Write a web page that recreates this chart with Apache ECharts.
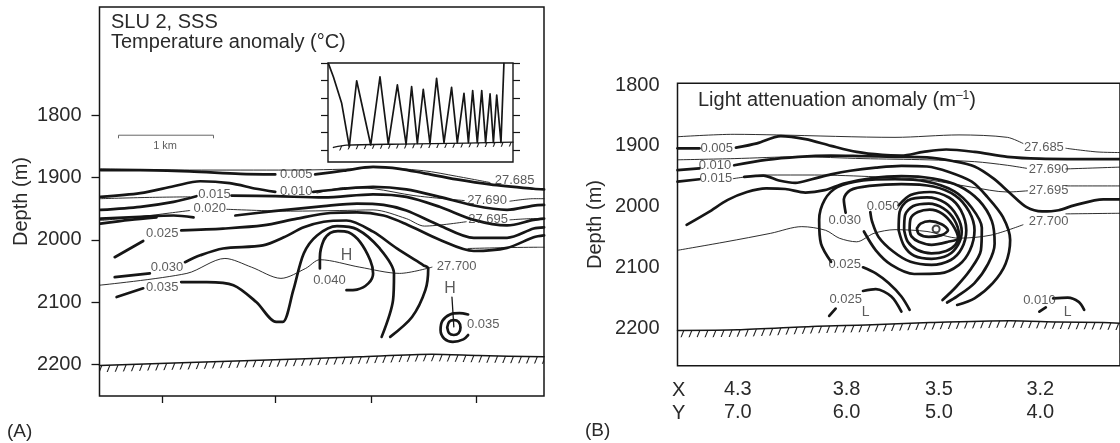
<!DOCTYPE html>
<html><head><meta charset="utf-8">
<script src="https://cdn.jsdelivr.net/npm/echarts@6/dist/echarts.min.js"></script>
<style>html,body{margin:0;padding:0;background:#fff}#c{width:1120px;height:443px}</style>
</head><body><div id="c"></div>
<script>
// ===== shared axis values =====
const stationKm = [0.66, 1.85, 2.86, 3.97];
const stationX = ['4.3', '3.8', '3.5', '3.2'];
const stationY = ['7.0', '6.0', '5.0', '4.0'];
const depthTicks = [1800, 1900, 2000, 2100, 2200];
const insetTicks = [0, 1, 2, 3, 4, 5];

// ===== Panel A: temperature anomaly contours [distance km, depth m] =====
const aT005a = [[0.01,1888],[0.43,1888],[0.95,1890],[1.48,1894],[1.85,1895]];
const aT005b = [[2.27,1895],[2.57,1889],[2.88,1883],[3.16,1886],[3.41,1893],[3.76,1903],[4.11,1911],[4.57,1918],[4.68,1919]];
const aT010a = [[0.01,1931],[0.43,1925],[0.78,1914],[1.06,1906],[1.37,1909],[1.65,1918],[1.85,1923]];
const aT010b = [[2.25,1923],[2.57,1918],[2.88,1915],[3.23,1919],[3.58,1931],[3.94,1945],[4.29,1952],[4.57,1945],[4.68,1944]];
const aT015a = [[0.01,1952],[0.43,1947],[0.78,1939],[1.02,1930]];
const aT015b = [[1.39,1929],[1.85,1930],[2.36,1932],[2.88,1927],[3.23,1931],[3.58,1947],[3.94,1968],[4.29,1977],[4.57,1968],[4.68,1966]];
const aT020a = [[0.01,1966],[0.43,1963],[0.78,1961],[0.99,1964]];
const aT020b = [[0.01,1974],[0.32,1968],[0.60,1964]];
const aT020c = [[1.43,1961],[1.83,1954],[2.36,1946],[2.71,1942],[2.99,1944],[3.23,1953],[3.58,1977],[3.94,1997],[4.29,1997],[4.57,1982],[4.68,1980]];
const aT025a = [[0.16,2028],[0.46,2002]];
const aT025b = [[0.86,1985],[1.30,1982],[1.72,1977],[2.08,1966],[2.43,1957],[2.71,1956],[2.99,1961],[3.23,1975],[3.58,2000],[3.94,2018],[4.29,2013],[4.57,1996],[4.68,1993]];
const aT030a = [[0.16,2060],[0.53,2054]];
const aT030b = [[0.90,2036],[1.06,2025],[1.30,2014],[1.72,2009],[1.94,1996],[2.15,1980],[2.36,1971],[2.60,1969],[2.88,1987],[3.13,2014],[3.41,2041],[3.46,2046],[3.43,2081],[3.29,2124],[3.06,2156]];
const aT035a = [[0.18,2092],[0.46,2078]];
const aT035b = [[0.86,2068],[1.13,2068],[1.41,2073],[1.65,2100],[1.86,2132],[1.93,2132],[2.04,2081],[2.15,2022],[2.29,1993],[2.50,1978],[2.71,1983],[2.95,2014],[3.10,2054],[3.09,2097],[2.97,2156]];
const aT040 = [[2.32,2046],[2.32,2028],[2.36,2001],[2.43,1989],[2.51,1986],[2.62,1988],[2.74,2003],[2.85,2033],[2.88,2054],[2.83,2070],[2.71,2080],[2.60,2081]];
const aHighIn = [[3.66,2141],[3.68,2132],[3.73,2129],[3.78,2132],[3.80,2141],[3.78,2150],[3.73,2153],[3.68,2150],[3.66,2141]];
const aHighOut = [[3.88,2120],[3.79,2118],[3.69,2120],[3.61,2130],[3.59,2145],[3.63,2159],[3.72,2164],[3.83,2160],[3.88,2153]];
const aHighStem = [[3.71,2092],[3.73,2140]];
// isopycnals (thin)
const aD685 = [[0.01,1886],[0.95,1888],[2.01,1888],[2.71,1886],[2.88,1884],[3.41,1889],[3.76,1898],[4.11,1908]];
const aD690a = [[0.01,1934],[0.50,1932],[0.95,1931]];
const aD690b = [[2.29,1925],[2.59,1916],[2.89,1918],[3.31,1929],[3.84,1937]];
const aD690c = [[4.32,1938],[4.57,1934],[4.68,1934]];
const aD695a = [[0.01,1969],[0.43,1963],[0.74,1957],[0.95,1953]];
const aD695b = [[1.34,1951],[2.01,1954],[2.53,1953],[2.88,1952],[3.23,1966],[3.42,1978],[3.86,1971]];
const aD695c = [[4.32,1968],[4.57,1966],[4.68,1966]];
const aD700a = [[0.00,2073],[0.92,2054],[1.32,2030],[1.60,2044],[1.91,2062],[2.17,2046],[2.32,2032],[2.74,2044],[3.16,2054],[3.50,2044]];
const aD700b = [[3.88,2014],[4.61,2012],[4.68,2012]];
const aScaleBar = [[0.20,1837],[0.20,1832],[1.20,1832],[1.20,1837]];
const aFloor = [[0.00,2202],[1.60,2194],[2.74,2188],[3.50,2184],[3.99,2186],[4.68,2188]];
const aLabels = [[2.07,1895,'0.005'],[2.07,1923,'0.010'],[1.21,1927,'0.015'],[1.16,1950,'0.020'],[0.66,1990,'0.025'],[0.71,2044,'0.030'],[0.66,2076,'0.035'],[2.42,2065,'0.040'],[4.37,1904,'27.685'],[4.08,1937,'27.690'],[4.09,1968,'27.695'],[3.76,2043,'27.700'],[4.04,2136,'0.035']];
const aHighs = [[2.60,2025,'H'],[3.69,2078,'H']];
const aScaleText = [[0.69,1849,'1 km']];

// ===== Inset: tow-yo track [time %, depth units] =====
const insetPath = [[0.2,0.02],[2.9,0.79],[7.4,2.32],[11.5,4.81],[15.5,1.02],[23.1,4.71],[28.1,0.79],[32.6,4.66],[37.5,1.26],[42.2,4.66],[45.2,1.36],[48.3,4.62],[51.5,1.51],[55.1,4.62],[58.7,0.88],[62.7,4.58],[66.8,1.40],[69.9,4.58],[73.5,1.74],[75.9,4.58],[78.2,1.59],[80.7,4.58],[83.1,1.59],[85.2,4.58],[87.6,1.78],[89.4,4.58],[91.2,1.84],[93.5,4.58],[95.1,0.02]];
const insetFloor = [[2.9,4.85],[10,4.72],[39,4.66],[75,4.60],[100,4.55]];

// ===== Panel B: light attenuation anomaly contours =====
const bT005a = [[0.00,1904],[0.24,1904]];
const bT005b = [[0.64,1903],[0.87,1896],[1.13,1884],[1.40,1889],[1.68,1900],[1.96,1910],[2.24,1915],[2.45,1916],[2.69,1910],[2.94,1906],[3.25,1910],[3.61,1918],[3.96,1921],[4.66,1922],[4.84,1922]];
const bT010a = [[0.00,1940],[0.24,1937]];
const bT010b = [[0.62,1932],[0.97,1923],[1.32,1918],[1.68,1916],[2.03,1917],[2.38,1918],[2.73,1919],[3.01,1925],[3.25,1934],[3.46,1954],[3.64,1978],[3.82,2001],[3.99,2008],[4.17,2006],[4.34,1998],[4.66,1988],[4.84,1988]];
const bT015a = [[0.00,1959],[0.24,1955]];
const bT015b = [[0.73,1951],[0.94,1949],[1.11,1957],[1.29,1961],[1.47,1955],[1.68,1947],[1.89,1941],[2.17,1936],[2.45,1933],[2.73,1934],[2.97,1943],[3.22,1959],[3.39,1984],[3.56,2017],[3.64,2055],[3.59,2094],[3.45,2126],[3.25,2151],[3.06,2162]];
const bT020 = [[0.10,2030],[0.34,2009],[0.55,1989],[0.76,1976],[0.97,1970],[1.18,1971],[1.40,1977],[1.61,1973],[1.82,1962],[2.10,1954],[2.45,1950],[2.80,1954],[3.08,1966],[3.30,1990],[3.44,2024],[3.47,2061],[3.40,2094],[3.25,2126],[3.06,2148],[2.95,2158]];
const bT025a = [[2.54,2170],[2.45,2148],[2.31,2126],[2.17,2110],[2.03,2100]];
const bT025b = [[1.68,2091],[1.57,2061],[1.55,2022],[1.61,1989],[1.75,1968],[2.03,1957],[2.38,1955],[2.73,1959],[3.03,1975],[3.22,2002],[3.33,2035],[3.32,2072],[3.20,2105],[3.05,2132],[2.90,2154]];
const bT025c = [[2.03,2139],[2.17,2136],[2.34,2148],[2.45,2173]];
const bT030 = [[1.84,2010],[1.82,1988],[1.89,1973],[2.10,1966],[2.45,1963],[2.80,1967],[3.04,1982],[3.19,2008],[3.25,2039],[3.20,2072],[3.08,2096],[2.87,2110],[2.59,2111],[2.34,2096],[2.17,2072],[2.04,2041]];
const bT050 = [[2.42,1998],[2.55,1981],[2.76,1976],[2.97,1985],[3.10,2006],[3.16,2039],[3.11,2069],[2.99,2088],[2.78,2096],[2.55,2091],[2.36,2074],[2.20,2050],[2.13,2025],[2.11,2009]];
const bR4 = [[2.42,2039],[2.43,2009],[2.52,1990],[2.73,1985],[2.93,1994],[3.06,2016],[3.11,2041],[3.07,2063],[2.96,2080],[2.78,2086],[2.59,2081],[2.48,2065],[2.42,2039]];
const bR3 = [[2.48,2039],[2.49,2014],[2.58,1999],[2.75,1995],[2.91,2003],[3.03,2022],[3.08,2047],[3.04,2063],[2.94,2073],[2.78,2077],[2.62,2071],[2.52,2058],[2.48,2039]];
const bR2 = [[2.54,2039],[2.55,2020],[2.63,2009],[2.76,2005],[2.90,2012],[3.01,2030],[3.07,2052],[2.96,2058],[2.78,2063],[2.64,2058],[2.56,2049],[2.54,2039]];
const bR1 = [[2.62,2036],[2.66,2028],[2.76,2024],[2.89,2029],[2.96,2039],[2.89,2047],[2.75,2050],[2.64,2045],[2.62,2036]];
const bCore = [[2.83,2037]];
const bLowTick1 = [[1.66,2180],[1.73,2168]];
const bT010c = [[4.11,2151],[4.27,2150],[4.39,2157],[4.45,2170]];
const bLowTick2 = [[3.96,2173],[4.03,2166]];
// isopycnals (thin)
const bD685a = [[0.00,1885],[0.62,1881],[1.08,1882],[2.38,1886],[3.08,1882],[3.61,1886],[3.78,1896]];
const bD685b = [[4.25,1904],[4.59,1910],[4.84,1911]];
const bD690a = [[0.00,1923],[0.62,1921],[1.32,1918],[2.03,1921],[2.73,1923],[3.25,1926],[3.61,1932],[3.82,1937]];
const bD690b = [[4.25,1938],[4.84,1935]];
const bD695a = [[0.61,1954],[0.97,1948],[1.50,1948],[2.17,1951],[2.73,1956],[3.22,1968],[3.61,1976],[3.83,1974]];
const bD695b = [[4.25,1966],[4.84,1966]];
const bD700a = [[0.00,2072],[0.53,2058],[1.02,2044],[1.36,2033],[1.62,2039],[1.77,2052],[1.96,2058],[2.15,2044],[2.38,2038],[2.73,2041],[3.08,2052],[3.43,2047],[3.78,2030]];
const bD700b = [[4.25,2012],[4.84,2011]];
const bFloor = [[0.00,2204],[0.66,2203],[1.53,2197],[2.06,2195],[2.76,2191],[3.64,2188],[4.16,2190],[4.66,2191],[4.84,2192]];
const bLabels = [[0.43,1904,'0.005'],[0.41,1933,'0.010'],[0.42,1954,'0.015'],[1.83,2022,'0.030'],[2.25,2000,'0.050'],[1.83,2096,'0.025'],[1.84,2153,'0.025'],[3.96,2154,'0.010'],[4.01,1902,'27.685'],[4.06,1939,'27.690'],[4.06,1973,'27.695'],[4.06,2025,'27.700']];
const bLows = [[2.06,2173,'L'],[4.27,2173,'L']];

// ===== build =====
const FONT = '"Liberation Sans", Arial, Helvetica, sans-serif';
const INK = '#161616';
const TXT = '#2a2a2a';
const THICK = 2.7, THIN = 0.9;

function hatchCanvas() {
  const c = document.createElement('canvas');
  c.width = 8; c.height = 20;
  const g = c.getContext('2d');
  g.strokeStyle = '#222'; g.lineWidth = 1.1;
  g.beginPath();
  [-8, 0, 8].forEach(o => { g.moveTo(o, 20); g.lineTo(o + 8, 0); });
  g.stroke();
  return c;
}
const hatch = hatchCanvas();

function ln(data, gi, w, extra) {
  return Object.assign({
    type: 'line', data: data, xAxisIndex: gi, yAxisIndex: gi,
    symbol: 'none', showSymbol: false, smooth: 0.3, silent: true,
    lineStyle: { color: INK, width: w, cap: 'round', join: 'round' }, z: 4
  }, extra || {});
}
// sea floor: line + hatched band (hatched area down to `bottom`, then white cover below floor+thick)
function floor(data, gi, yi, thick, w, bottom, coverBottom) {
  return [
    ln(data, gi, w, { yAxisIndex: yi, smooth: 0.25, z: 2,
      areaStyle: { color: { image: hatch, repeat: 'repeat' }, opacity: 1, origin: bottom } }),
    ln(data.map(p => [p[0], p[1] + thick]), gi, 0, { yAxisIndex: yi, smooth: 0.25, z: 3,
      lineStyle: { width: 0, opacity: 0 },
      areaStyle: { color: '#ffffff', opacity: 1, origin: coverBottom } })
  ];
}
function texts(data, gi, size, color) {
  return {
    type: 'scatter', xAxisIndex: gi, yAxisIndex: gi, data: data, silent: true,
    symbolSize: 1, itemStyle: { color: 'rgba(0,0,0,0)' }, z: 6,
    label: { show: true, position: 'inside', formatter: p => p.value[2],
      fontSize: size, fontFamily: FONT, color: color || '#333' }
  };
}

const series = [];
[aT005a, aT005b, aT010a, aT010b, aT015a, aT015b, aT020a, aT020b, aT020c, aT025a, aT025b,
 aT030a, aT030b, aT035a, aT035b, aT040, aHighIn, aHighOut].forEach(d => series.push(ln(d, 0, THICK)));
[aD685, aD690a, aD690b, aD690c, aD695a, aD695b, aD695c, aD700a, aD700b].forEach(d => series.push(ln(d, 0, THIN)));
series.push(ln(aHighStem, 0, 1.3, { smooth: false }));
series.push(ln(aScaleBar, 0, 1, { smooth: false, lineStyle: { color: '#666', width: 1 } }));
floor(aFloor, 0, 0, 11, 1.5, 2235, 2245).forEach(s => series.push(s));
series.push(texts(aLabels, 0, 13));
series.push(texts(aHighs, 0, 16));
series.push(texts(aScaleText, 0, 11));

// inset (grid 2; y axes 2 & 3)
series.push(ln(insetPath, 2, 1.7, { yAxisIndex: 2, smooth: false }));
floor(insetFloor, 2, 2, 0.25, 1.3, 5.45, 5.6).forEach(s => series.push(s));

[bT005a, bT005b, bT010a, bT010b, bT015a, bT015b, bT020, bT025a, bT025b, bT025c, bT030, bT050,
 bR4, bR3, bR2, bR1, bLowTick1, bT010c, bLowTick2].forEach(d => series.push(ln(d, 1, THICK)));
[bD685a, bD685b, bD690a, bD690b, bD695a, bD695b, bD700a, bD700b].forEach(d => series.push(ln(d, 1, THIN)));
series.push({ type: 'scatter', xAxisIndex: 1, yAxisIndex: 1, data: bCore, silent: true, symbol: 'circle',
  symbolSize: 7, itemStyle: { color: 'rgba(0,0,0,0)', borderColor: INK, borderWidth: 2 }, z: 5 });
floor(bFloor, 1, 1, 11.5, 1.5, 2245, 2255).forEach(s => series.push(s));
series.push(texts(bLabels, 1, 13));
series.push(texts(bLows, 1, 14));

const noLine = { show: false };
const plain = v => String(v);
const option = {
  animation: false,
  backgroundColor: '#fff',
  grid: [
    { z: 10, left: 99.5, top: 7, width: 444.5, height: 389, show: true, borderColor: INK, borderWidth: 1.5, backgroundColor: 'transparent' },
    { z: 10, left: 677.5, top: 83.3, width: 460, height: 282.4, show: true, borderColor: INK, borderWidth: 1.5, backgroundColor: 'transparent' },
    { z: 10, left: 328, top: 63, width: 185, height: 99, show: true, borderColor: INK, borderWidth: 1.4, backgroundColor: 'transparent' }
  ],
  xAxis: [
    { gridIndex: 0, type: 'value', min: 0, max: 4.679, axisLine: noLine, splitLine: noLine,
      axisTick: { show: true, customValues: stationKm, length: 7, lineStyle: { color: INK, width: 1.3 } },
      axisLabel: { show: false } },
    { gridIndex: 1, type: 'value', min: 0, max: 4.842, axisLine: noLine, splitLine: noLine, axisTick: { show: false },
      axisLabel: { show: true, customValues: stationKm, margin: 12, fontSize: 20, lineHeight: 23, fontFamily: FONT, color: TXT,
        formatter: v => { const i = stationKm.indexOf(v); return i < 0 ? '' : stationX[i] + '\n' + stationY[i]; } } },
    { gridIndex: 2, type: 'value', min: 0, max: 100, show: false }
  ],
  yAxis: [
    { gridIndex: 0, type: 'value', inverse: true, min: 1626, max: 2251, axisLine: noLine, splitLine: noLine,
      axisTick: { show: true, customValues: depthTicks, length: 8, lineStyle: { color: INK, width: 1.3 } },
      axisLabel: { show: true, customValues: depthTicks, formatter: plain, margin: 18, fontSize: 20, fontFamily: FONT, color: TXT },
      name: 'Depth (m)', nameLocation: 'middle', nameGap: 68,
      nameTextStyle: { fontSize: 20, fontFamily: FONT, color: TXT } },
    { gridIndex: 1, type: 'value', inverse: true, min: 1797, max: 2262, axisLine: noLine, splitLine: noLine,
      axisTick: { show: false },
      axisLabel: { show: true, customValues: depthTicks, formatter: plain, margin: 18, fontSize: 20, fontFamily: FONT, color: TXT },
      name: 'Depth (m)', nameLocation: 'middle', nameGap: 72,
      nameTextStyle: { fontSize: 20, fontFamily: FONT, color: TXT } },
    { gridIndex: 2, type: 'value', inverse: true, min: 0, max: 5.69, axisLine: noLine, splitLine: noLine,
      axisTick: { show: true, customValues: insetTicks, length: 7, lineStyle: { color: INK, width: 1.2 } },
      axisLabel: { show: false } },
    { gridIndex: 2, type: 'value', position: 'right', inverse: true, min: 0, max: 5.69, axisLine: noLine, splitLine: noLine,
      axisTick: { show: true, customValues: insetTicks, length: 7, lineStyle: { color: INK, width: 1.2 } },
      axisLabel: { show: false } }
  ],
  graphic: [
    { type: 'text', x: 111, y: 22, silent: true, style: { text: 'SLU 2, SSS', fontSize: 20, fontFamily: FONT, fill: TXT, align: 'left', verticalAlign: 'middle', textAlign: 'left', textVerticalAlign: 'middle' } },
    { type: 'text', x: 111, y: 42, silent: true, style: { text: 'Temperature anomaly (°C)', fontSize: 20, fontFamily: FONT, fill: TXT, align: 'left', verticalAlign: 'middle', textAlign: 'left', textVerticalAlign: 'middle' } },
    { type: 'text', x: 698, y: 90, silent: true, style: {
        text: '{n|Light attenuation anomaly (m}{s|–1}{n|)}', fill: TXT, align: 'left', verticalAlign: 'top', textAlign: 'left', textVerticalAlign: 'top',
        rich: { n: { fontSize: 20, fontFamily: FONT, lineHeight: 24, verticalAlign: 'top', fill: TXT, color: TXT },
                s: { fontSize: 12, fontFamily: FONT, lineHeight: 12, verticalAlign: 'top', fill: TXT, color: TXT } } } },
    { type: 'text', x: 672, y: 390, silent: true, style: { text: 'X', fontSize: 20, fontFamily: FONT, fill: TXT, align: 'left', verticalAlign: 'middle', textAlign: 'left', textVerticalAlign: 'middle' } },
    { type: 'text', x: 672, y: 413, silent: true, style: { text: 'Y', fontSize: 20, fontFamily: FONT, fill: TXT, align: 'left', verticalAlign: 'middle', textAlign: 'left', textVerticalAlign: 'middle' } },
    { type: 'text', x: 7, y: 432, silent: true, style: { text: '(A)', fontSize: 19, fontFamily: FONT, fill: TXT, align: 'left', verticalAlign: 'middle', textAlign: 'left', textVerticalAlign: 'middle' } },
    { type: 'text', x: 585, y: 431, silent: true, style: { text: '(B)', fontSize: 19, fontFamily: FONT, fill: TXT, align: 'left', verticalAlign: 'middle', textAlign: 'left', textVerticalAlign: 'middle' } }
  ],
  series: series
};
const chart = echarts.init(document.getElementById('c'), null, { renderer: 'canvas' });
chart.setOption(option);
</script>
</body></html>
